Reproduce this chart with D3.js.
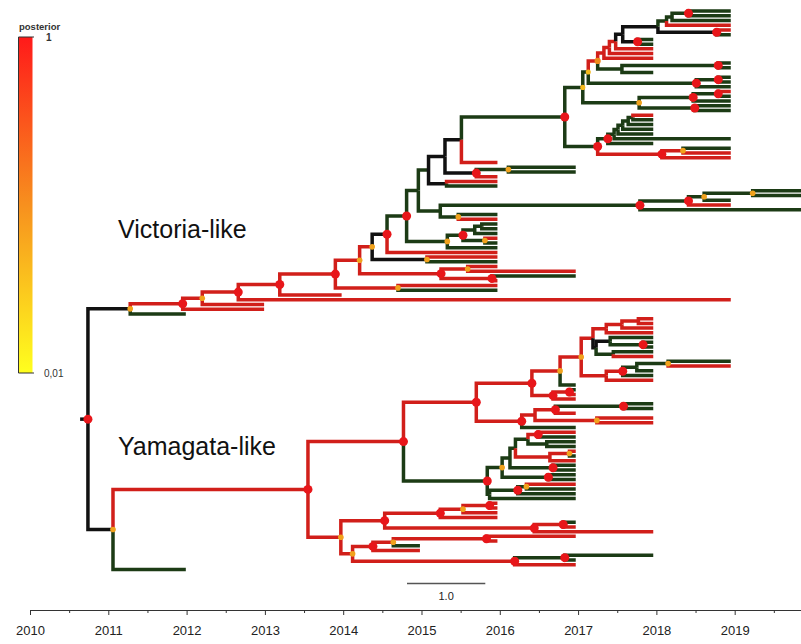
<!DOCTYPE html>
<html><head><meta charset="utf-8">
<script src="https://cdn.jsdelivr.net/npm/d3@7/dist/d3.min.js"></script>
<style>body{margin:0;background:#fff}svg{display:block}text{font-family:"Liberation Sans",Arial,sans-serif}</style>
</head><body><svg id="c" width="801" height="644"></svg>
<script>
// ---------- data ----------
const yearTicks = [2010,2011,2012,2013,2014,2015,2016,2017,2018,2019];
const minorTicks = [2010.5,2011.5,2012.5,2013.5,2014.5,2015.5,2016.5,2017.5,2018.5,2019.5];
const cladeLabels = ["Victoria-like","Yamagata-like"];
const legendTitle = "posterior";
const legendTicks = ["1","0,01"];
const scaleBarValue = 1.0;
const rootStart = 2010.64;
// rows: [id, parent, time (year), state (r=red,g=green,k=black), posterior (0 = no dot)]
const rootRow = [["root","",2010.74,"k",1]];
const victoriaBackbone = [
 ["A","root",2011.28,"k",0.4],["B","A",2011.95,"r",1],["C","B",2012.20,"r",0.4],
 ["H","C",2012.66,"r",1],["I","H",2013.19,"r",1],["J","I",2013.90,"r",1],
 ["K","J",2014.21,"r",0.4],["K1","K",2014.37,"r",0.4],["L","K1",2014.56,"k",1],
 ["M","L",2014.81,"g",1],["N","M",2014.96,"g",0],["O","N",2015.09,"g",0],
 ["P","O",2015.30,"k",0],["Q","P",2015.51,"k",0],["D","Q",2016.83,"g",1]
];
const victoriaTop = [
 ["E","D",2017.06,"g",0.3],["E1","E",2017.13,"g",0.3],["E1a","E1",2017.25,"r",0.5],
 ["R1","E1a",2017.33,"r",0],["R2","R1",2017.40,"r",0],["R3","R2",2017.48,"r",0],
 ["Kn","R3",2017.57,"k",0],["Kn2","Kn",2018.02,"k",0],["Kn3","Kn2",2018.13,"g",0],
 ["Kn4","Kn3",2018.20,"g",0],["Kn5","Kn4",2018.41,"g",1],
 ["n1","Kn5",2018.95,"g",0],["n2","Kn5",2018.95,"g",0],["n3","Kn4",2018.95,"g",0],
 ["n4","Kn3",2018.95,"r",0],["Kn6","Kn2",2018.77,"k",1],
 ["n5","Kn6",2018.95,"r",0],["n6","Kn6",2018.95,"g",0],
 ["Kq","Kn",2017.76,"k",1],["n7","Kq",2017.96,"g",0],["n8","Kq",2017.96,"g",0],
 ["n9","R3",2017.96,"r",0],["n10","R2",2017.96,"r",0],["n11","R1",2017.96,"r",0],
 ["G1","E1a",2017.56,"g",0],["G1a","G1",2018.79,"g",1],
 ["g1","G1a",2018.95,"g",0],["g2","G1a",2018.95,"g",0],["g3","G1",2017.96,"g",0],
 ["E1b","E1",2018.51,"g",1],["E1c","E1b",2018.79,"g",1],
 ["e1","E1c",2018.95,"g",0],["e2","E1c",2018.95,"g",0],["e3","E1b",2018.95,"g",0],
 ["E2","E",2017.78,"g",0.4],["E2a","E2",2018.47,"g",1],["E2a1","E2a",2018.79,"g",1],
 ["e4","E2a1",2018.95,"r",0],["e5","E2a1",2018.95,"g",0],["e6","E2a",2018.95,"g",0],
 ["E2b","E2",2018.49,"g",1],["e7","E2b",2018.95,"g",0],["e8","E2b",2018.95,"g",0],
 ["F","D",2017.25,"g",1],["F1","F",2017.38,"g",1],["F1x","F1",2017.46,"g",0],
 ["Fc1","F1x",2017.51,"g",0],["Fc2","Fc1",2017.57,"g",0],["Fc3","Fc2",2017.64,"g",0],
 ["Fc4","Fc3",2017.70,"g",0],["f1","Fc4",2017.96,"r",0],["f2","Fc4",2017.96,"g",0],
 ["f3","Fc3",2017.96,"g",0],["f4","Fc2",2017.96,"g",0],["f5","Fc1",2017.96,"g",0],
 ["f6","F1x",2018.95,"g",0],["f7","F1",2017.96,"g",0],
 ["F2","F",2018.07,"r",1],["F2a","F2",2018.34,"r",0.4],
 ["f8","F2a",2018.95,"g",0],["f9","F2a",2018.95,"r",0],["f10","F2",2018.95,"r",0]
];
const victoriaLower = [
 ["q1","Q",2015.97,"r",0],["R","P",2015.70,"k",1],["S","R",2016.11,"g",0.4],
 ["s1","S",2016.97,"g",0],["s2","S",2016.97,"g",0],["r1","R",2015.97,"r",0],
 ["T","O",2015.32,"k",0],["t1","T",2015.97,"r",0],["t2","T",2015.97,"g",0],
 ["U","N",2015.24,"g",0],["V","U",2017.79,"g",1],["W","V",2018.41,"g",1],
 ["X","W",2018.61,"g",0.4],["Y","X",2019.23,"g",0.4],
 ["y1","Y",2019.85,"g",0],["y2","Y",2019.85,"g",0],["x1","X",2018.95,"g",0],
 ["w1","W",2018.95,"r",0],["v1","V",2019.85,"g",0],
 ["Z","U",2015.47,"g",0.4],["z1","Z",2015.97,"g",0],["z2","Z",2015.97,"r",0],
 ["AA","M",2015.33,"g",0.4],["AB","AA",2015.53,"g",1],["AB1","AB",2015.68,"g",0],
 ["AB1a","AB1",2015.77,"g",0],["ab1","AB1a",2015.97,"g",0],["ab2","AB1a",2015.97,"g",0],
 ["ab3","AB1",2015.97,"g",0],["AB2","AB",2015.81,"g",0.4],
 ["ab4","AB2",2015.97,"r",0],["ab5","AB2",2015.97,"g",0],["aa1","AA",2015.97,"g",0],
 ["l1","L",2015.97,"r",0],["AC","K1",2015.07,"k",0.4],
 ["ac1","AC",2015.97,"r",0],["ac2","AC",2015.97,"g",0],
 ["K2","K",2015.25,"r",1],["K2a","K2",2015.59,"r",0.4],
 ["k1","K2a",2015.97,"r",0],["k2","K2a",2016.97,"r",0],
 ["K2b","K2",2015.90,"r",1],["k3","K2b",2016.97,"g",0],["k4","K2b",2015.97,"r",0],
 ["J2","J",2014.70,"r",0.4],["j1","J2",2015.97,"r",0],["j2","J2",2015.97,"g",0],
 ["i1","I",2013.98,"r",0],["h1","H",2018.95,"r",0],["c1","C",2012.99,"r",0],
 ["b1","B",2012.99,"r",0],["a1","A",2011.99,"g",0]
];
const yamagataUpper = [
 ["YR","root",2011.06,"k",0.4],["YA","YR",2013.55,"r",1],["YB","YA",2014.77,"r",1],
 ["YD","YB",2015.70,"r",1],["YD1","YD",2016.41,"r",1],["YD1a","YD1",2016.77,"r",0.4],
 ["YF","YD1a",2017.04,"r",0.4],["YG","YF",2017.19,"r",0],["YG1","YG",2017.36,"r",0],
 ["YG1a","YG1",2017.56,"r",0],["YG1b","YG1a",2017.77,"r",0],
 ["yg1","YG1b",2017.96,"r",0],["yg2","YG1b",2017.96,"r",0],
 ["yg3","YG1a",2017.96,"r",0],["yg4","YG1",2017.96,"r",0],
 ["YG2","YG",2017.23,"k",0],["YG2a","YG2",2017.41,"k",0],["yg5","YG2a",2017.96,"g",0],
 ["YG2b","YG2a",2017.83,"g",1],["yg6","YG2b",2017.96,"g",0],["yg7","YG2b",2017.96,"g",0],
 ["YG2c","YG2",2017.45,"g",0],["yg8","YG2c",2017.96,"g",0],["yg9","YG2c",2017.96,"r",0],
 ["YH","YF",2017.36,"r",0],["YH1","YH",2017.57,"r",1],["YH2","YH1",2017.75,"g",0],
 ["YH3","YH2",2018.15,"g",0.4],["yh1","YH3",2018.95,"g",0],["yh2","YH3",2018.95,"r",0],
 ["yh3","YH2",2017.96,"g",0],["yh4","YH1",2017.96,"g",0],["yh5","YH",2017.96,"r",0],
 ["yd1","YD1a",2016.97,"g",0],["YD1b","YD1",2016.68,"r",1],["YD1c","YD1b",2016.89,"r",1],
 ["yd2","YD1c",2016.97,"g",0],["yd3","YD1c",2016.97,"r",0],["yd4","YD1b",2016.97,"r",0],
 ["YD2","YD",2016.28,"r",1],["YD2a","YD2",2016.45,"r",0],["YD2b","YD2a",2016.71,"r",1],
 ["YD2c","YD2b",2017.58,"g",1],["yd5","YD2c",2017.96,"g",0],["yd6","YD2c",2017.96,"g",0],
 ["yd7","YD2b",2016.97,"r",0],["YD2d","YD2a",2017.24,"r",0.4],
 ["yd8","YD2d",2017.96,"r",0],["yd9","YD2d",2017.96,"r",0],["yd10","YD2",2016.97,"g",0]
];
const yamagataLower = [
 ["YE","YB",2015.84,"g",1],["YE1","YE",2016.03,"g",0.4],["YE1a","YE1",2016.13,"g",0],
 ["YE1b","YE1a",2016.20,"g",0],["YE1c","YE1b",2016.36,"g",0],["YE1d","YE1c",2016.49,"r",1],
 ["ye1","YE1d",2016.97,"r",0],["ye2","YE1d",2016.97,"g",0],["YE1e","YE1c",2016.60,"g",0],
 ["ye3","YE1e",2016.97,"g",0],["ye4","YE1e",2016.97,"g",0],["YE1f","YE1b",2016.64,"r",0],
 ["YE1g","YE1f",2016.89,"r",0.4],["ye5","YE1g",2016.97,"r",0],["ye6","YE1g",2016.97,"g",0],
 ["ye7","YE1f",2016.97,"r",0],["YE1h","YE1a",2016.68,"g",1],
 ["ye8","YE1h",2016.97,"g",0],["ye9","YE1h",2016.97,"g",0],["YE1i","YE1",2016.62,"g",1],
 ["ye10","YE1i",2016.97,"g",0],["ye11","YE1i",2016.97,"g",0],["YEb","YE",2015.87,"g",0],
 ["YE3","YEb",2016.23,"g",1],["YE3a","YE3",2016.34,"g",0.4],
 ["ye12","YE3a",2016.97,"r",0],["ye13","YE3a",2016.97,"g",0],["ye14","YE3",2016.97,"g",0],
 ["ye15","YEb",2016.97,"g",0],
 ["YC","YA",2013.97,"r",0.4],["YC1","YC",2014.53,"r",1],["YC1a","YC1",2015.24,"r",1],
 ["YC1d","YC1a",2015.53,"r",0.4],["YC1e","YC1d",2015.87,"r",1],
 ["yc1","YC1e",2015.97,"r",0],["yc2","YC1e",2015.97,"r",0],["yc3","YC1d",2015.97,"r",0],
 ["yc4","YC1a",2015.97,"r",0],["YC1b","YC1",2016.44,"r",1],["YC1c","YC1b",2016.81,"r",1],
 ["yc5","YC1c",2016.97,"g",0],["yc6","YC1c",2016.97,"r",0],["yc7","YC1b",2017.96,"r",0],
 ["YC2","YC",2014.12,"r",0.4],["YC2a","YC2",2014.38,"r",1],["YC2d","YC2a",2014.64,"r",0.4],
 ["YC2e","YC2d",2015.83,"r",1],["yc8","YC2e",2016.97,"r",0],["yc9","YC2e",2015.97,"r",0],
 ["yc10","YC2d",2014.98,"g",0],["yc11","YC2a",2014.98,"r",0],
 ["YC2b","YC2",2016.19,"r",1],["YC2c","YC2b",2016.83,"g",1],
 ["yc12","YC2c",2017.96,"g",0],["yc13","YC2c",2016.97,"g",0],["yc14","YC2b",2016.97,"r",0],
 ["ylast","YR",2011.99,"g",0]
];
// ---------- drawing ----------
const stateColor = {r:"#d11f1a", g:"#1c3b15", k:"#111111"};
const svg = d3.select("#c");
svg.append("rect").attr("width",801).attr("height",644).attr("fill","#fff");

const rows = [].concat(rootRow, victoriaBackbone, victoriaTop, victoriaLower, yamagataUpper, yamagataLower)
  .map(r => ({id:r[0], parent:r[1], t:r[2], s:r[3], p:r[4]}));
const root = d3.stratify().id(d=>d.id).parentId(d=>d.parent||null)(rows);
const leaves = root.leaves();

const x = d3.scaleLinear().domain([2010, 2019.847]).range([30, 801]);
const y = d3.scaleLinear().domain([0, leaves.length-1]).range([11, 569.5]);
leaves.forEach((l,i)=> l.yy = y(i));
root.eachAfter(n => { if (n.children) n.yy = (n.children[0].yy + n.children[n.children.length-1].yy)/2; });

const g = svg.append("g");
const BW = 3.5;
g.append("path").attr("d", `M${x(rootStart)},${root.yy}H${x(root.data.t)}`)
  .attr("stroke", stateColor.k).attr("stroke-width",BW).attr("fill","none");
g.selectAll("path.br").data(root.descendants().slice(1)).join("path")
  .attr("class","br")
  .attr("d", d => `M${x(d.parent.data.t)},${d.parent.yy}V${d.yy}H${x(d.data.t)}`)
  .attr("fill","none").attr("stroke", d => stateColor[d.data.s])
  .attr("stroke-width",BW).attr("stroke-linejoin","miter").attr("stroke-linecap","butt");

const post = d3.scaleLinear().domain([0.01,0.5,1]).range(["#ffff1e","#ee8a1c","#ff1a1a"]);
g.selectAll("circle").data(root.descendants().filter(d=>d.data.p>0)).join("circle")
  .attr("cx", d=>x(d.data.t)).attr("cy", d=>d.yy)
  .attr("r", d => 1.7 + 2.8*d.data.p)
  .attr("fill", d => d.data.p>=0.9 ? "#e8161a" : post(d.data.p));

// clade labels
svg.append("text").attr("x",118).attr("y",238).attr("font-size",25).attr("fill","#111").text(cladeLabels[0]);
svg.append("text").attr("x",118).attr("y",455).attr("font-size",25).attr("fill","#111").text(cladeLabels[1]);

// legend
const defs = svg.append("defs");
const lg = defs.append("linearGradient").attr("id","pg").attr("x1",0).attr("x2",0).attr("y1",0).attr("y2",1);
[[0,"#ff1a1a"],[0.5,"#f7901e"],[1,"#ffff1e"]].forEach(s=>lg.append("stop").attr("offset",s[0]).attr("stop-color",s[1]));
const ly = d3.scaleLinear().domain([1,0.01]).range([37,373]);
svg.append("rect").attr("x",18.5).attr("y",ly(1)).attr("width",14).attr("height",ly(0.01)-ly(1)).attr("fill","url(#pg)");
svg.append("path").attr("d",`M18.5,${ly(1)}V${ly(0.01)}H34`).attr("stroke","#333").attr("fill","none");
svg.append("path").attr("d",`M18.5,${ly(1)}H34`).attr("stroke","#333").attr("fill","none");
svg.append("text").attr("x",19).attr("y",30).attr("font-size",9.5).attr("font-weight","bold").attr("fill","#333").text(legendTitle);
svg.append("text").attr("x",46).attr("y",ly(1)+4).attr("font-size",10).attr("font-weight","bold").attr("fill","#333").text(legendTicks[0]);
svg.append("text").attr("x",44).attr("y",ly(0.01)+4).attr("font-size",10).attr("fill","#333").text(legendTicks[1]);

// scale bar
const sbX = 407;
svg.append("path").attr("d",`M${sbX},583.5H${sbX + x(2010+scaleBarValue)-x(2010)}`).attr("stroke","#555").attr("stroke-width",1.3);
svg.append("text").attr("x",sbX + (x(2010+scaleBarValue)-x(2010))/2).attr("y",600).attr("text-anchor","middle")
  .attr("font-size",11).attr("fill","#222").text(d3.format(".1f")(scaleBarValue));

// axis
const ax = svg.append("g").attr("transform","translate(0,610)");
ax.call(d3.axisBottom(x).tickValues(yearTicks).tickFormat(d3.format("d")).tickSize(5).tickPadding(11).tickSizeOuter(0));
ax.append("g").call(d3.axisBottom(x).tickValues(minorTicks).tickFormat("").tickSize(3).tickSizeOuter(0))
  .select(".domain").remove();
ax.selectAll("text").attr("font-size",13).attr("font-family","Liberation Sans, Arial, sans-serif").attr("fill","#222");
ax.selectAll("line,path").attr("stroke","#333");
</script></body></html>
